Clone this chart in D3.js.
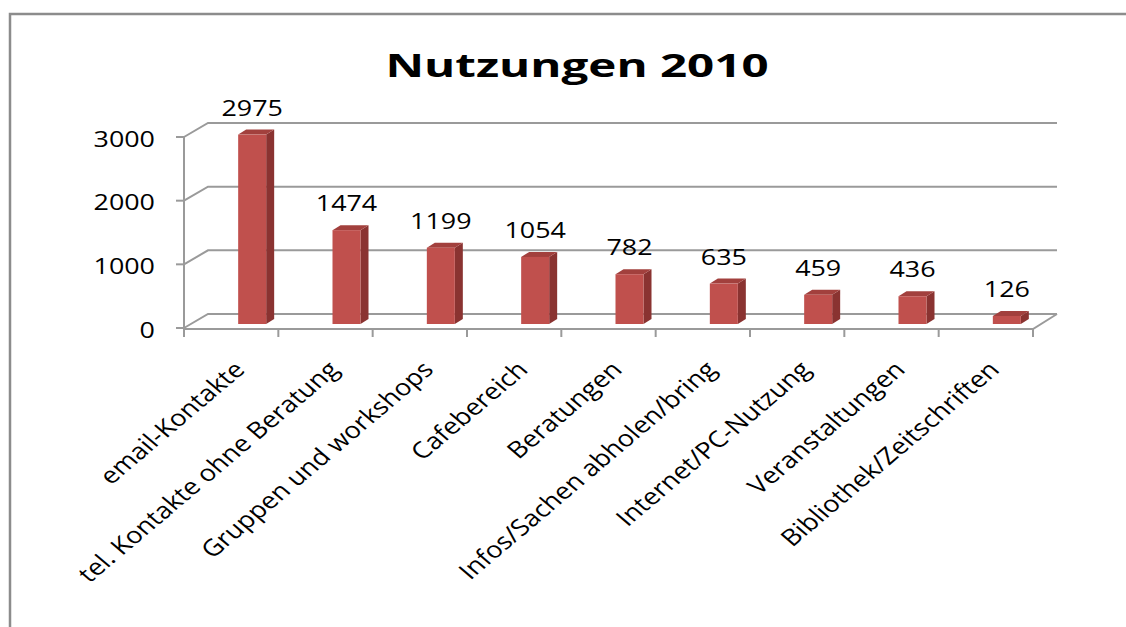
<!DOCTYPE html>
<meta charset="utf-8">
<style>
body {
  margin: 0;
  background-color: #ffffff;
}
svg text {
  font-family: "Open Sans", sans-serif;
  fill: #000;
}
.grid {
  fill: none;
  stroke: #9a9a9a;
  stroke-width: 2px;
}
</style>
<svg width="1126" height="627"></svg>
<script src="https://d3js.org/d3.v7.min.js"></script>
<script>
var categories = ["email-Kontakte", "tel. Kontakte ohne Beratung", "Gruppen und workshops",
  "Cafebereich", "Beratungen", "Infos/Sachen abholen/bring", "Internet/PC-Nutzung",
  "Veranstaltungen", "Bibliothek/Zeitschriften"];
var values = [2975, 1474, 1199, 1054, 782, 635, 459, 436, 126];
var yTicks = [0, 1000, 2000, 3000];
var title = "Nutzungen 2010";

var svg = d3.select("svg");
var stretch = 1.28; // text in the picture is wider than normal

// plot box (front edge) and 3d depth
var plotL = 184, plotR = 1033, plotB = 328, plotT = 137;
var depthX = 24, depthY = -14;

var x = d3.scaleBand().domain(categories).range([plotL, plotR]);
var y = d3.scaleLinear().domain([0, 3000]).range([plotB, plotT]);

// frame
svg.append("path")
  .attr("d", "M10,627V14H1126")
  .attr("fill", "none")
  .attr("stroke", "#8c8c8c")
  .attr("stroke-width", 2.5);

// title
svg.append("text")
  .attr("transform", "translate(577,77) scale(1.44,1)")
  .attr("text-anchor", "middle")
  .style("font-size", "33px")
  .style("font-weight", "bold")
  .text(title);

// back wall gridlines with the little diagonal to the front axis
yTicks.forEach(function(t) {
  svg.append("path")
    .attr("class", "grid")
    .attr("d", "M" + plotL + "," + y(t) + "L" + (plotL + depthX) + "," + (y(t) + depthY) +
      "H" + (plotR + depthX));
});

// floor front edge + right diagonal
svg.append("path")
  .attr("class", "grid")
  .attr("d", "M" + plotL + "," + (y(0) + 1) + "H" + plotR + "L" + (plotR + depthX) + "," + (y(0) + depthY));

// front y axis + ticks
svg.append("path")
  .attr("class", "grid")
  .attr("d", "M" + plotL + "," + y(3000) + "V" + (y(0) + 1));
yTicks.forEach(function(t) {
  svg.append("path")
    .attr("class", "grid")
    .attr("d", "M" + (plotL - 8) + "," + y(t) + "H" + plotL);
  svg.append("text")
    .attr("transform", "translate(155," + (y(t) + 9.5) + ") scale(" + stretch + ",1)")
    .attr("text-anchor", "end")
    .style("font-size", "21px")
    .text(t);
});

// x ticks on the category boundaries
var bounds = categories.map(function(c) { return x(c); }).concat([plotR]);
bounds.forEach(function(b) {
  svg.append("path")
    .attr("class", "grid")
    .attr("d", "M" + b + "," + (y(0) + 1) + "V" + (y(0) + 9));
});

// bars
var barW = 28, sideX = 8, sideY = -5, lift = 4, shift = 21;
var bars = svg.selectAll(".bar")
  .data(values)
  .enter().append("g")
  .attr("class", "bar");

function cx(i) { return x(categories[i]) + x.bandwidth() / 2 + shift; }

bars.append("path")  // side
  .attr("fill", "#8a3331")
  .attr("d", function(d, i) {
    var x1 = cx(i) + barW / 2, y0 = y(0) - lift, y1 = y(d) - lift;
    return "M" + x1 + "," + y0 + "L" + (x1 + sideX) + "," + (y0 + sideY) +
      "L" + (x1 + sideX) + "," + (y1 + sideY) + "L" + x1 + "," + y1 + "Z";
  });
bars.append("path")  // top
  .attr("fill", "#a2403d")
  .attr("d", function(d, i) {
    var x0 = cx(i) - barW / 2, x1 = cx(i) + barW / 2, y1 = y(d) - lift;
    return "M" + x0 + "," + y1 + "L" + (x0 + sideX) + "," + (y1 + sideY) +
      "L" + (x1 + sideX) + "," + (y1 + sideY) + "L" + x1 + "," + y1 + "Z";
  });
bars.append("rect")  // front
  .attr("fill", "#c0504d")
  .attr("x", function(d, i) { return cx(i) - barW / 2; })
  .attr("y", function(d) { return y(d) - lift; })
  .attr("width", barW)
  .attr("height", function(d) { return y(0) - y(d); });

// value labels
bars.append("text")
  .attr("transform", function(d, i) {
    return "translate(" + cx(i) + "," + (y(d) - lift - 19) + ") scale(" + stretch + ",1)";
  })
  .attr("text-anchor", "middle")
  .style("font-size", "21px")
  .text(function(d) { return d; });

// rotated category labels
svg.selectAll(".xlabel")
  .data(categories)
  .enter().append("text")
  .attr("class", "xlabel")
  .attr("transform", function(c) {
    return "translate(" + (x(c) + x.bandwidth() / 2 + 15) + ",371) scale(1.18,1) rotate(-45)";
  })
  .attr("text-anchor", "end")
  .style("font-size", "23px")
  .text(function(c) { return c; });
</script>
